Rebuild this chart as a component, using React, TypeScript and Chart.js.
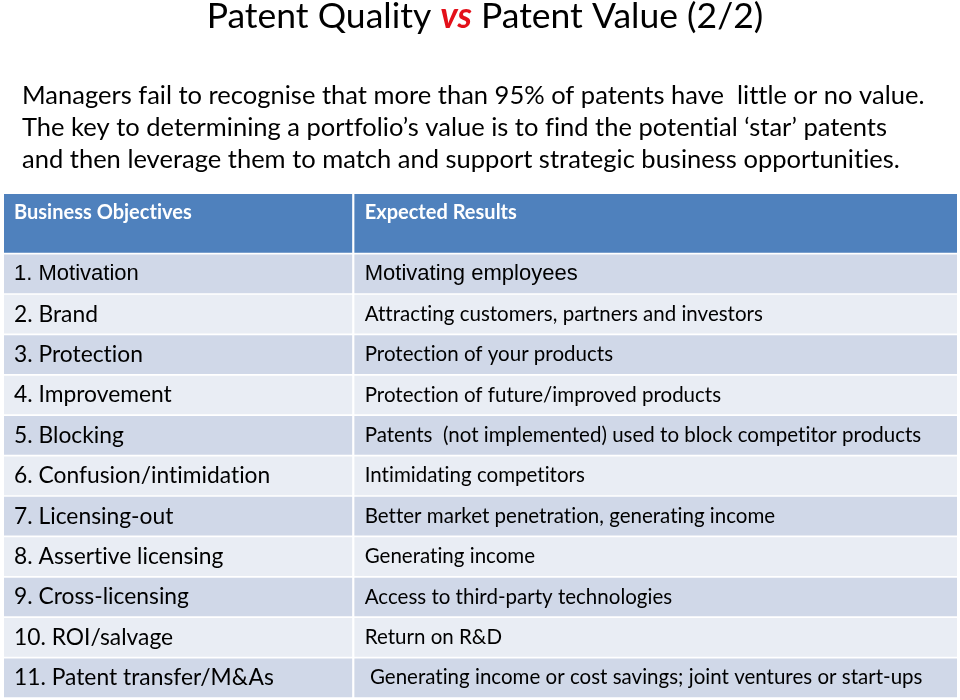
import React, { useEffect, useRef } from 'react';
import { Chart, registerables } from 'chart.js';

Chart.register(...registerables);

// ---- content ----
const TITLE_PARTS = [
  { text: 'Patent Quality ', emph: false },
  { text: 'vs', emph: true },
  { text: ' Patent Value (2/2)', emph: false },
];
const INTRO_LINES = [
  'Managers fail to recognise that more than 95% of patents have  little or no value.',
  'The key to determining a portfolio\u2019s value is to find the potential \u2018star\u2019 patents',
  'and then leverage them to match and support strategic business opportunities.',
];
const COLUMN_HEADERS = ['Business Objectives', 'Expected Results'];
const OBJECTIVES = [
  '1. Motivation',
  '2. Brand',
  '3. Protection',
  '4. Improvement',
  '5. Blocking',
  '6. Confusion/intimidation',
  '7. Licensing-out',
  '8. Assertive licensing',
  '9. Cross-licensing',
  '10. ROI/salvage',
  '11. Patent transfer/M&As',
];
const RESULTS = [
  'Motivating employees',
  'Attracting customers, partners and investors',
  'Protection of your products',
  'Protection of future/improved products',
  'Patents  (not implemented) used to block competitor products',
  'Intimidating competitors',
  'Better market penetration, generating income',
  'Generating income',
  'Access to third-party technologies',
  'Return on R&D',
  ' Generating income or cost savings; joint ventures or start-ups',
];

// column spans on a 0..100 table-width axis
const COL1_SPAN: [number, number] = [0, 36.5];
const COL2_SPAN: [number, number] = [36.8, 100];
const HEADER_CENTER = 0.75; // header occupies 0..1.5 row units
const ROWS_TOTAL = 12.5;

const FONT = 'Lato, "Noto Sans", sans-serif';
const ARIAL = '"Liberation Sans", Arial, sans-serif';

const textPlugin = {
  id: 'tableText',
  afterDraw(chart: any) {
    const ctx = chart.ctx as CanvasRenderingContext2D;
    ctx.save();
    try { (ctx as any).letterSpacing = '0.01px'; } catch (e) { /* ignore */ }
    ctx.textBaseline = 'middle';
    ctx.textAlign = 'left';
    // title
    const titleFont = (emph: boolean) =>
      emph ? `italic bold 35.5px ${FONT}` : `35.5px ${FONT}`;
    let total = 0;
    for (const p of TITLE_PARTS) {
      ctx.font = titleFont(p.emph);
      total += ctx.measureText(p.text).width;
    }
    let tx = 485 - total / 2;
    for (const p of TITLE_PARTS) {
      ctx.font = titleFont(p.emph);
      ctx.fillStyle = p.emph ? '#E3101A' : '#000';
      ctx.fillText(p.text, tx, 17);
      tx += ctx.measureText(p.text).width;
    }
    // intro paragraph
    ctx.fillStyle = '#000';
    ctx.font = `25.5px ${FONT}`;
    INTRO_LINES.forEach((line, i) => {
      ctx.fillText(line, 22, 96 + i * 32);
    });

    const drawCells = (dsIndex: number, texts: string[], kind: 'header' | 'c1' | 'c2') => {
      const meta = chart.getDatasetMeta(dsIndex);
      meta.data.forEach((el: any, i: number) => {
        const { x, y, base, height } = el.getProps(['x', 'y', 'base', 'height'], true);
        const left = Math.min(x, base);
        const t = texts[i];
        if (kind === 'header') {
          ctx.fillStyle = '#FFFFFF';
          ctx.font = `bold 20px ${FONT}`;
          ctx.fillText(t, left + 10, y - height / 2 + 18);
        } else {
          ctx.fillStyle = '#000';
          if (i === 0) ctx.font = `22px ${ARIAL}`;
          else ctx.font = kind === 'c1' ? `22.8px ${FONT}` : `20.5px ${FONT}`;
          ctx.fillText(t, left + 10, y);
        }
      });
    };
    drawCells(0, [COLUMN_HEADERS[0]], 'header');
    drawCells(1, [COLUMN_HEADERS[1]], 'header');
    drawCells(2, OBJECTIVES, 'c1');
    drawCells(3, RESULTS, 'c2');
    ctx.restore();
  },
};

const rowColor = (c: any) => (c.dataIndex % 2 === 0 ? '#D0D8E8' : '#E9EDF4');

export default function App() {
  const ref = useRef<HTMLCanvasElement | null>(null);
  useEffect(() => {
    document.body.style.margin = '0';
    const chart = new Chart(ref.current as HTMLCanvasElement, {
      type: 'bar',
      data: {
        datasets: [
          {
            label: COLUMN_HEADERS[0],
            data: [{ x: COL1_SPAN, y: HEADER_CENTER }] as any,
            backgroundColor: '#4F81BD',
            barThickness: 58,
            grouped: false,
          },
          {
            label: COLUMN_HEADERS[1],
            data: [{ x: COL2_SPAN, y: HEADER_CENTER }] as any,
            backgroundColor: '#4F81BD',
            barThickness: 58,
            grouped: false,
          },
          {
            label: 'objectives',
            data: OBJECTIVES.map((_, i) => ({ x: COL1_SPAN, y: i + 2 })) as any,
            backgroundColor: rowColor,
            barThickness: 38,
            grouped: false,
          },
          {
            label: 'results',
            data: RESULTS.map((_, i) => ({ x: COL2_SPAN, y: i + 2 })) as any,
            backgroundColor: rowColor,
            barThickness: 38,
            grouped: false,
          },
        ],
      },
      options: {
        indexAxis: 'y',
        animation: false,
        responsive: false,
        devicePixelRatio: 1,
        layout: { padding: { left: 4, right: 3, top: 193, bottom: 2 } },
        scales: {
          x: { type: 'linear', min: 0, max: 100, display: false, offset: false },
          y: { type: 'linear', min: 0, max: ROWS_TOTAL, reverse: true, display: false, offset: false },
        },
        plugins: {
          legend: { display: false },
          tooltip: { enabled: false },
          title: { display: false },
        },
        events: [],
      } as any,
      plugins: [textPlugin],
    });
    return () => chart.destroy();
  }, []);
  return (
    <div style={{ position: 'fixed', left: 0, top: 0, width: 960, height: 700, background: '#fff' }}>
      <canvas ref={ref} width={960} height={700} />
    </div>
  );
}
